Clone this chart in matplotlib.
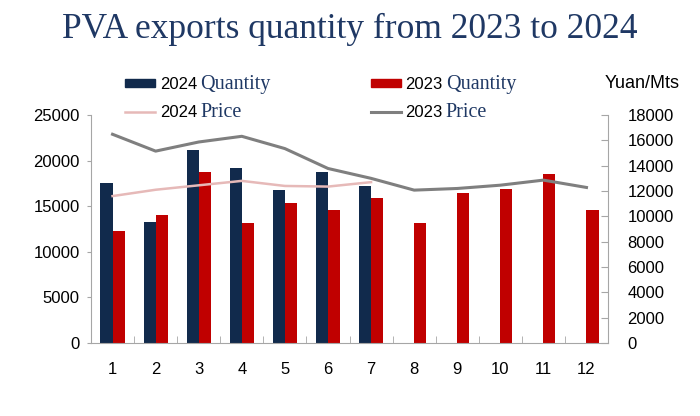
import numpy as np
import matplotlib.pyplot as plt
from matplotlib.patches import Patch
from matplotlib.lines import Line2D

plt.rcParams['font.family'] = ['Liberation Sans', 'DejaVu Sans']

# data
months = list(range(1, 13))
month_labels = [str(m) for m in months]
qty_2024 = [17600, 13300, 21200, 19150, 16750, 18800, 17200]
qty_2023 = [12300, 14050, 18800, 13200, 15350, 14600, 15950,
            13200, 16400, 16850, 18500, 14600]
price_2024 = [11600, 12100, 12450, 12800, 12400, 12350, 12700]
price_2023 = [16480, 15150, 15870, 16320, 15350, 13780, 13000,
              12070, 12200, 12460, 12860, 12280]

navy = '#112A4C'
red = '#C00000'
pink = '#E6B9B8'
grey = '#7F7F7F'
axis_col = '#A6A6A6'
serif_col = '#1F3864'

fig = plt.figure(figsize=(7, 4.16), dpi=100)
ax = fig.add_axes([0.13, 0.1755, 0.7386, 0.548])
ax2 = ax.twinx()

# bars: 2024 on the left of the month, 2023 on the right
ax.bar(months[:len(qty_2024)], qty_2024, width=-0.28, align='edge', color=navy)
ax.bar(months, qty_2023, width=0.28, align='edge', color=red)

# price lines
ax2.plot(months, price_2023, color=grey, lw=2.2)
ax2.plot(months[:len(price_2024)], price_2024, color=pink, lw=1.8)

ax.set_xlim(0.5, 12.5)
ax.set_ylim(0, 25000)
ax.set_yticks(range(0, 25001, 5000))
ax2.set_ylim(0, 18000)
ax2.set_yticks(range(0, 18001, 2000))

ax.set_xticks(months, month_labels)
ax.set_xticks(np.arange(1.5, 12.5, 1), minor=True)
ax.tick_params(axis='x', which='major', length=0, pad=14, labelsize=12)
ax.tick_params(axis='x', which='minor', direction='in', length=5, color=axis_col)
ax.tick_params(axis='y', length=3, pad=5, labelsize=12, color=axis_col)
ax2.tick_params(axis='y', direction='in', length=5, pad=14, labelsize=12, color=axis_col)

for a in (ax, ax2):
    a.spines['top'].set_visible(False)
    for s in ('left', 'right', 'bottom'):
        a.spines[s].set_color(axis_col)
ax.spines['right'].set_visible(False)
ax2.spines['left'].set_visible(False)
ax2.spines['bottom'].set_visible(False)

fig.text(0.5, 1 - 29 / 416, 'PVA exports quantity from 2023 to 2024',
         family='Liberation Serif', size=25.5, color=serif_col,
         ha='center', va='center')
fig.text(605 / 700, 1 - 83 / 416, 'Yuan/Mts', size=13, va='center')

# legend: sans year + serif word, like the original
handles = [Patch(color=navy), Line2D([], [], color=pink, lw=1.8),
           Patch(color=red), Line2D([], [], color=grey, lw=2.2)]
years = ['2024', '2024', '2023', '2023']
words = ['Quantity', 'Price', 'Quantity', 'Price']
leg = fig.legend(handles, years, ncol=2, loc='upper left',
                 bbox_to_anchor=(125 / 700, 1 - 77 / 416), frameon=False,
                 borderpad=0, borderaxespad=0, handlelength=1.8,
                 handletextpad=0.3, columnspacing=10.4, labelspacing=0.8,
                 handleheight=0.4, fontsize=12)

fig.canvas.draw()
renderer = fig.canvas.get_renderer()
inv = fig.transFigure.inverted()
for t, w in zip(leg.get_texts(), words):
    bb = t.get_window_extent(renderer)
    bx, by = t.get_transform().transform(t.get_position())
    fx, fy = inv.transform((bb.x1 + 3, by))
    fig.text(fx, fy, w, family='Liberation Serif', size=14.5,
             color=serif_col, va='baseline')

fig.savefig('out.png', dpi=100)
